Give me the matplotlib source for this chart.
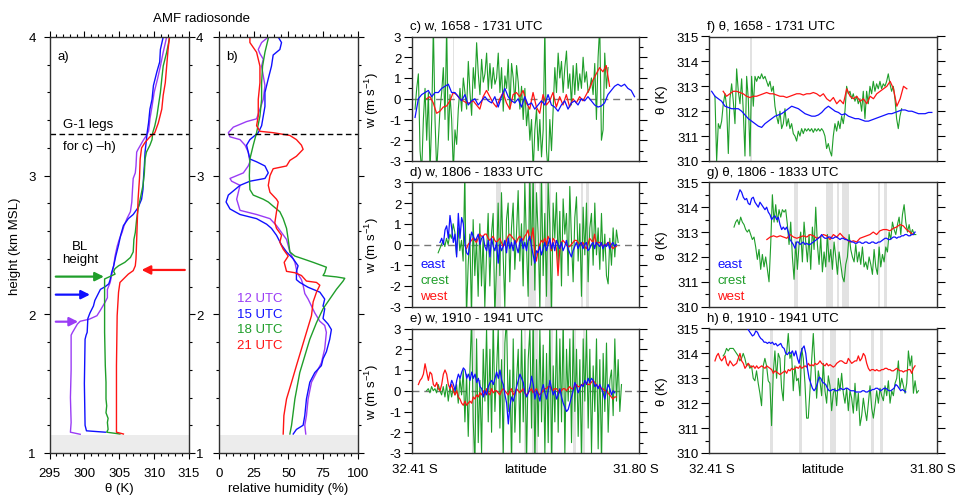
import numpy as np
import matplotlib
matplotlib.use("Agg")
import matplotlib.pyplot as plt
from matplotlib.ticker import MultipleLocator

plt.rcParams['font.family'] = ['Liberation Sans', 'DejaVu Sans']
plt.rcParams['font.size'] = 9.5
plt.rcParams['mathtext.fontset'] = 'custom'
plt.rcParams['mathtext.rm'] = 'Liberation Sans'
plt.rcParams['mathtext.default'] = 'regular'
plt.rcParams['axes.unicode_minus'] = False

PURPLE = '#9a3cf5'
BLUE = '#1010ff'
GREEN = '#1f9e2a'
RED = '#ff1414'
BAND = '#e2e2e2'

# ---------------------------------------------------------------------------
# a) potential temperature soundings (theta K, height km MSL)
# ---------------------------------------------------------------------------
theta_12 = [299.4, 298.0, 298.1, 298.0, 298.1, 298.1, 298.3, 299.0, 299.4, 300.7, 301.8, 302.3,
            303.0, 303.3, 303.3, 303.7, 303.9, 304.2, 304.4, 304.7, 305.0, 305.4, 305.7, 306.1,
            306.6, 306.8, 306.9, 307.0, 307.3, 307.4, 307.5, 307.7, 308.5, 308.9, 309.2, 309.3,
            309.4, 309.7, 310.0, 310.5, 310.9, 311.3, 311.8]
z_12 = [1.135, 1.15, 1.22, 1.40, 1.60, 1.85, 1.87, 1.93, 1.95, 1.965, 1.99, 2.03, 2.09, 2.12,
        2.18, 2.23, 2.28, 2.35, 2.42, 2.49, 2.54, 2.59, 2.64, 2.69, 2.74, 2.81, 2.90, 2.98, 3.02,
        3.07, 3.17, 3.19, 3.26, 3.29, 3.32, 3.36, 3.41, 3.50, 3.60, 3.70, 3.79, 3.89, 4.0]
theta_15 = [303.0, 300.3, 300.1, 300.0, 300.1, 300.25, 300.4, 300.5, 300.8, 301.3, 301.5, 301.8,
            302.3, 303.0, 303.5, 303.7, 303.9, 304.2, 304.5, 304.9, 305.2, 305.6, 306.3, 307.0,
            307.7, 308.2, 308.4, 308.5, 308.6, 308.7, 308.9, 309.0, 309.2, 309.4, 309.7, 309.9,
            310.4, 310.8, 310.9, 311.3]
z_15 = [1.15, 1.16, 1.20, 1.50, 1.82, 1.85, 1.87, 1.97, 2.01, 2.06, 2.10, 2.13, 2.18, 2.20, 2.22,
        2.25, 2.30, 2.35, 2.42, 2.50, 2.57, 2.64, 2.69, 2.72, 2.77, 2.83, 2.90, 3.0, 3.07, 3.17,
        3.26, 3.31, 3.38, 3.48, 3.55, 3.65, 3.75, 3.82, 3.91, 4.0]
theta_18 = [305.1, 303.2, 303.4, 303.3, 303.4, 303.1, 303.2, 303.1, 303.1, 303.0, 302.9, 302.9,
            302.9, 304.4, 304.2, 304.4, 304.9, 305.8, 306.6, 307.0, 307.1, 307.3, 307.5, 307.7,
            308.0, 308.4, 308.6, 308.7, 308.9, 309.4, 309.7, 309.8, 310.1, 310.4, 310.6, 310.9,
            311.1, 311.3, 311.8, 312.2]
z_18 = [1.137, 1.15, 1.17, 1.22, 1.25, 1.29, 1.34, 1.39, 1.51, 1.63, 1.87, 2.11, 2.255, 2.29,
        2.31, 2.33, 2.35, 2.375, 2.41, 2.45, 2.54, 2.59, 2.69, 2.76, 2.83, 2.93, 3.02, 3.12, 3.17,
        3.22, 3.26, 3.31, 3.36, 3.43, 3.50, 3.60, 3.70, 3.79, 3.89, 3.99]
theta_21 = [305.6, 304.6, 304.6, 304.6, 304.7, 304.9, 305.1, 305.6, 306.3, 307.0, 307.3, 307.4,
            307.5, 307.6, 307.7, 307.9, 308.0, 308.2, 308.7, 309.4, 310.1, 310.6, 311.1, 311.3,
            311.6, 311.8, 312.0, 312.2]
z_21 = [1.137, 1.15, 1.40, 1.63, 1.99, 2.16, 2.23, 2.255, 2.29, 2.315, 2.35, 2.40, 2.54, 2.69,
        2.83, 2.98, 3.12, 3.20, 3.24, 3.28, 3.31, 3.38, 3.48, 3.58, 3.67, 3.79, 3.91, 4.0]

# b) relative humidity soundings (%)
rh_12 = [62.5, 61.8, 63.0, 64.2, 66.6, 70.2, 73.7, 76.1, 77.3, 76.1, 72.6, 69.0, 66.6, 64.2, 61.8,
         60.6, 59.4, 56.3, 54.7, 51.1, 48.7, 45.1, 41.5, 36.8, 27.2, 15.3, 12.9, 14.1, 15.3, 9.3,
         8.1, 12.9, 17.7, 21.2, 22.4, 21.2, 18.9, 15.3, 8.1, 6.9, 10.5, 15.3, 20.0, 27.2, 29.6,
         32.0, 33.2, 32.0, 30.8, 32.0, 29.6, 28.4, 30.8, 35.6]
zr_12 = [1.137, 1.20, 1.27, 1.39, 1.51, 1.58, 1.65, 1.75, 1.87, 1.92, 1.95, 2.01, 2.06, 2.11,
         2.15, 2.21, 2.25, 2.30, 2.375, 2.45, 2.54, 2.59, 2.64, 2.69, 2.72, 2.75, 2.83, 2.88,
         2.93, 2.96, 2.98, 3.00, 3.02, 3.07, 3.10, 3.17, 3.22, 3.26, 3.28, 3.31, 3.35, 3.37,
         3.39, 3.41, 3.48, 3.55, 3.65, 3.72, 3.79, 3.84, 3.88, 3.91, 3.96, 4.0]
rh_15 = [53.5, 55.8, 60.6, 61.8, 63.0, 65.4, 69.0, 73.7, 74.9, 77.3, 79.7, 80.9, 78.5, 74.9, 76.1,
         74.9, 76.1, 72.6, 70.2, 64.2, 58.2, 55.8, 55.8, 57.0, 53.5, 48.7, 45.1, 41.5, 37.9, 34.4,
         27.2, 15.3, 8.1, 5.3, 6.9, 10.5, 15.3, 22.4, 33.2, 35.6, 33.2, 27.2, 22.4, 21.2, 20.0,
         22.4, 28.4, 30.8, 32.0, 33.2, 33.2, 35.6, 37.9, 39.1, 43.9, 45.1, 42.7]
zr_15 = [1.137, 1.17, 1.20, 1.27, 1.39, 1.51, 1.58, 1.63, 1.68, 1.73, 1.82, 1.89, 1.93, 1.97,
         2.04, 2.06, 2.11, 2.16, 2.17, 2.195, 2.23, 2.25, 2.31, 2.35, 2.40, 2.45, 2.50, 2.57,
         2.62, 2.65, 2.69, 2.72, 2.76, 2.81, 2.86, 2.89, 2.93, 2.96, 2.98, 3.02, 3.07, 3.10,
         3.12, 3.17, 3.22, 3.26, 3.31, 3.36, 3.43, 3.50, 3.60, 3.70, 3.79, 3.87, 3.91, 3.96, 4.0]
rh_18 = [51.1, 52.3, 54.7, 58.2, 61.8, 65.4, 70.2, 74.9, 79.7, 84.5, 89.3, 90.5, 84.5, 74.9, 76.1,
         77.3, 67.8, 60.6, 54.7, 51.1, 49.9, 48.7, 46.3, 43.9, 39.1, 35.6, 32.0, 24.8, 22.4, 22.0,
         22.4, 24.8, 27.2, 29.6, 30.8, 30.8, 31.5, 33.2, 35.6]
zr_18 = [1.137, 1.20, 1.39, 1.58, 1.70, 1.82, 1.94, 2.04, 2.11, 2.18, 2.24, 2.26, 2.27, 2.28,
         2.30, 2.34, 2.375, 2.40, 2.42, 2.45, 2.54, 2.62, 2.69, 2.74, 2.78, 2.81, 2.83, 2.86,
         2.90, 3.00, 3.12, 3.22, 3.31, 3.43, 3.55, 3.67, 3.79, 3.89, 3.99]
rh_21 = [46.3, 46.8, 48.7, 52.3, 55.8, 59.4, 63.0, 66.6, 67.8, 70.2, 72.6, 70.2, 63.0, 59.4, 54.7,
         48.7, 47.0, 49.9, 46.3, 43.9, 45.1, 41.5, 40.3, 41.5, 42.7, 41.5, 36.8, 35.6, 36.8, 39.1,
         48.7, 51.1, 55.8, 60.6, 59.4, 55.8, 51.1, 39.1, 29.6, 27.2, 28.4, 28.4, 29.6, 29.6, 27.2,
         22.4, 22.4]
zr_21 = [1.137, 1.27, 1.39, 1.51, 1.63, 1.75, 1.87, 1.99, 2.09, 2.16, 2.21, 2.23, 2.24, 2.28,
         2.30, 2.31, 2.375, 2.42, 2.47, 2.52, 2.57, 2.62, 2.66, 2.74, 2.81, 2.83, 2.88, 2.93,
         3.00, 3.05, 3.07, 3.11, 3.14, 3.19, 3.22, 3.26, 3.29, 3.31, 3.32, 3.36, 3.43, 3.55,
         3.67, 3.79, 3.89, 3.96, 4.0]

sonde_labels = ['12 UTC', '15 UTC', '18 UTC', '21 UTC']
bl_height = [1.947, 2.142, 2.272, 2.32]   # km MSL, arrows in a)
g1_leg_height = 3.3
ground_top = 1.13

# ---------------------------------------------------------------------------
# c)-h) G-1 legs: values sampled evenly between start/end latitude (deg, S<0)
# ---------------------------------------------------------------------------
# leg 1658-1731 UTC, w (m/s)
w_c_east = [-0.9, 0.0, 0.2, 0.3, 0.4, 0.1, 0.3, 0.3, 0.5, 0.6, 0.7, 0.3, 0.3, 0.1, -0.1, 0.2, -0.3,
            -0.1, 0.0, -0.3, -0.1, 0.1, -0.1, -0.2, 0.1, -0.4, 0.1, 0.5, 0.1, -0.1, -0.2, 0.0, -0.4,
            0.1, -0.3, -0.2, -0.5, -0.3, -0.1, -0.3, 0.2, -0.3, -0.4, -0.6, -0.3, -0.1, -0.5, -0.2,
            -0.1, -0.3, 0.0, -0.1, 0.1, -0.1, -0.3, -0.4, -0.35, -0.2, 0.2, 0.4, 0.6, 0.7, 0.6, 0.7,
            0.5, 0.4, 0.1]
w_c_west = [0.0, 0.1, -0.2, -0.7, -0.6, -0.4, -0.35, -0.1, 0.3, 0.2, 0.0, -0.1, -0.2, -0.2, -0.1,
            -0.3, -0.5, 0.1, 0.4, 0.1, -0.2, -0.4, 0.0, 0.3, -0.2, -0.5, 0.2, 0.3, 0.1, 0.4, -0.2,
            -0.5, 0.3, -0.4, -0.7, 0.2, -0.3, -0.1, 0.3, -0.4, 0.1, -0.3, 0.2, -0.4, 0.0, -0.2, 0.1,
            -0.1, 0.2, 0.5, 0.9, 1.2, 1.5, 1.3, 1.6, 0.6]
w_c_crest = [-0.5, 0.5, 1.2, -2.5, -3.5, -1.0, 0.5, -2.0, 0.3, -3.5, -1.0, 3.5, -1.0, -3.5, -2.0,
             -0.5, 0.3, 1.5, -1.0, 3.5, -2.0, 0.2, -1.0, -3.5, -1.5, -2.2, -0.5, 0.5, -0.6, 1.0,
             0.3, -0.5, 1.8, 0.3, -0.8, 1.5, 0.5, 2.7, 1.2, 0.2, 1.9, 0.8, 1.2, 2.2, 0.4, 1.7, 0.5,
             1.5, 0.7, 1.0, 2.2, 0.3, 1.5, -0.6, 1.1, 0.5, 1.9, -0.5, 1.7, 1.0, -0.2, 1.6, 0.8,
             -0.5, 0.6, -1.0, 0.5, -1.3, -0.4, -2.0, -1.0, -3.5, -1.5, -0.5, -2.5, -1.0, -2.8, -1.5,
             3.5, -2.5, -3.5, -1.0, -2.5, -0.5, 1.5, 0.3, 2.2, 1.0, 1.8, 0.3, 1.5, 2.3, 0.5, 1.2,
             -0.3, 1.6, 0.2, 1.7, 0.4, 1.2, 0.5, 2.0, 0.8, 1.3, 0.3, 0.5, 1.0, 0.2, 1.7, -1.0, 2.0,
             3.5, -2.0, -1.5, 2.2, 0.5, 1.5]
lat_c_east = [-32.401, -31.812]
lat_c_west = [-32.370, -31.879]
lat_c_crest = [-32.401, -31.883]

# leg 1806-1833 UTC, w (m/s)
w_d_east = [0.1, 0.3, 0.0, 0.7, 0.9, 0.3, 1.4, 0.8, 0.1, 0.5, -0.6, 1.5, 0.3, 1.3, 1.0, 0.0, -0.4,
            -0.5, 0.1, 0.6, 0.4, 0.2, 0.3, 0.5, 0.0, 0.3, 0.4, -0.1, -0.3, 0.2, -0.6, 0.3, -0.1,
            -0.3, 0.1, -0.9, 0.0, -0.3, -0.1, 0.2, -0.4, 0.3, -0.2, 0.1, -0.3, 0.2, -0.1, -0.4, 0.1,
            0.3, -0.2, 0.1, -0.3, 0.2, 0.4, -0.1, -0.5, -0.9, -0.3, -0.4, -0.1, -0.5, -0.2, 0.1,
            -0.3, 0.0, 0.3, -0.2, 0.1, -0.3, 0.2, 0.0, -0.2, 0.1, -0.3, -0.1, 0.2, -0.2, -0.4, -0.6,
            -0.3, -0.1, 0.1, -0.2, 0.0, 0.1, -0.2, 0.0, 0.1, -0.3, -0.2, 0.0, 0.1, -0.2, 0.1, 0.0,
            -0.1, 0.1, -0.2, 0.0, -0.1, 0.1, -0.2, 0.0, 0.1, -0.1, 0.0]
w_d_west = [-0.2, 0.0, 0.1, 0.2, 0.3, 0.2, 0.1, 0.3, 0.5, 0.4, 0.4, 0.5, 0.5, 0.3, 0.2, 0.3, 0.4,
            0.2, 0.1, 0.2, 0.3, 0.1, -0.1, 0.0, 0.2, 0.4, 0.5, 0.4, 0.3, 0.2, 0.1, 0.3, 0.4, 0.3,
            0.2, 0.4, 0.5, 0.7, 0.2, 0.3, 0.8, -0.4, -0.8, -0.3, 0.0, 0.2, 0.1, 0.3, 0.0, 0.4, 0.2,
            -0.3, 0.3, 0.2, -0.2, -1.5, -0.3, 0.1, 0.2, 0.1, 0.0, -0.1, -0.1, 0.0, 0.1, 0.2, 0.2,
            0.1, 0.0, 0.0, 0.1, -0.1, -0.2, 0.0, 0.3, 0.2, 0.1, 0.5, 0.0, 0.1, 0.1, 0.0, -0.1, 0.0,
            0.0, 0.1, 0.1, -0.1, -0.2, -0.1, -0.1]
w_d_crest = [-0.4, -0.2, 0.0, 0.2, -0.1, 0.3, 0.0, 0.5, 0.3, 1.0, 0.6, -0.5, 0.8, -0.3, 0.2, -0.8,
             3.5, -3.5, -1.0, 0.5, -3.5, 1.2, -1.5, 0.3, -2.5, 1.0, -2.0, 0.4, -3.0, -0.5, 1.5,
             -2.0, 0.5, 1.5, -3.5, -1.0, 2.0, -1.5, 2.5, -0.5, -3.0, 1.2, 2.0, -1.8, 0.8, 2.0, -1.2,
             0.5, 2.6, -0.8, 1.0, -2.0, 3.0, 0.0, -2.5, 3.5, -1.0, 3.5, -2.2, 2.5, 0.5, -3.0, 3.5,
             -1.5, 1.5, -2.5, 3.0, 1.0, -3.5, 2.0, 0.3, 2.5, -1.0, 1.6, -2.0, 2.2, 0.5, 1.5, -1.5,
             2.8, 0.2, -1.8, 1.3, 2.3, -0.8, 1.0, -2.5, 1.8, -0.5, 2.0, -1.8, 0.8, 1.5, -1.0, 2.0,
             -0.5, 0.8, -1.2, 1.5, -0.8, 0.5, -1.5, -1.9, 0.3, -1.0, 0.8, -0.6, 0.7, 0.1]
lat_d_east = [-32.334, -31.861]
lat_d_west = [-32.263, -31.861]
lat_d_crest = [-32.339, -31.856]

# leg 1910-1941 UTC, w (m/s)
w_e_east = [0.2, 0.5, 0.3, 0.0, 0.5, 0.8, 0.6, 0.9, 1.1, 1.0, 0.6, 0.8, 0.5, 0.9, 0.6, 0.8, 0.4,
            0.6, 0.2, 0.1, -0.3, 0.0, -0.2, 0.2, 0.4, 0.5, 0.3, 0.6, 0.9, 0.6, 1.0, 0.5, 0.3, -0.2,
            -0.6, -1.6, -0.7, -0.3, -0.5, -0.2, 0.2, 0.5, 0.8, 0.6, 0.4, -0.1, -0.3, -0.1, 0.2, 0.7,
            0.3, -0.4, 0.0, -0.2, -0.5, 0.0, 0.3, -0.1, -0.4, 0.0, 0.5, 0.1, -0.2, 0.0, -0.4, -0.2,
            0.1, -0.3, -0.6, -0.8, -1.0, -0.9, -0.6, -0.3, 0.0, 0.4, 0.2, -0.1, 0.1, 0.3, 0.2, 0.5,
            0.3, 0.6, 0.4, 0.6, 0.5, 0.2, 0.3, 0.1, 0.3, 0.1, -0.1, -0.4, 0.0, 0.3, 0.1, -0.2, 0.0,
            -0.1]
w_e_west = [0.3, 0.5, 0.6, 0.8, 1.3, 0.9, 0.5, 0.9, 0.8, 0.3, 0.2, 0.4, 0.1, 0.0, 0.3, 0.8, 1.0,
            0.8, 0.3, 0.1, 0.3, 0.0, -0.2, 0.0, -0.3, -0.4, -0.6, -0.7, -0.5, -0.7, -0.6, -0.5,
            -0.6, -0.3, -0.4, -0.2, -0.3, -0.1, -0.2, 0.0, -0.2, 0.1, -0.1, -0.2, 0.1, -0.1, 0.0,
            0.0, -0.1, -0.2, 0.0, 0.1, 0.0, -0.1, -0.2, 0.0, 0.1, -0.2, -0.1, 0.1, 0.0, -0.1, 0.0,
            0.1, -0.1, -0.2, -0.1, 0.0, 0.1, -0.1, 0.0, 0.1, -0.1, -0.2, -0.1, 0.0, 0.1, 0.1, 0.2,
            0.2, 0.1, 0.0, 0.1, 0.1, 0.0, -0.1, 0.0, 0.1, 0.1, 0.0, 0.1, 0.2, 0.1, 0.1, 0.2, 0.3,
            0.2, 0.2, 0.3, 0.3, 0.4, 0.4, 0.3, 0.3, 0.4, 0.5, 0.4, 0.3, 0.2, 0.2, 0.1, 0.1, 0.0,
            0.0, -0.1, -0.2, -0.3, -0.4, -0.3, -0.3]
w_e_crest = [0.0, 0.1, -0.1, 0.2, 0.0, 0.1, -0.1, 0.3, 0.0, -0.2, 0.2, -0.3, 0.3, -0.5, 0.2, -0.3,
             0.1, -0.2, 0.3, -0.6, 0.6, -0.2, 1.0, -1.5, 0.8, -2.2, 1.0, 3.5, -1.5, -3.5, 2.5,
             -2.5, 0.5, -3.0, 2.0, -0.5, 3.0, -1.5, 2.0, -2.0, 3.5, -1.0, 1.0, 3.0, -1.8, 1.5, -3.0,
             2.3, 3.5, -1.0, 1.0, -3.5, 2.5, -2.0, 0.5, 2.0, -2.5, 3.0, -1.5, 2.0, -3.5, 1.5, 3.0,
             -1.8, 3.5, -3.5, 1.5, -2.2, 3.0, -1.5, 2.2, -3.0, 1.8, -2.5, 3.5, -3.5, 1.2, -1.5, 3.0,
             -2.0, 2.5, -1.5, 3.5, -3.0, 2.0, -0.5, 2.5, -2.5, 3.0, -1.0, 2.0, -2.2, 1.5, -3.5, 2.5,
             -0.5, 3.0, -1.8, 2.0, -3.0, 1.2, -1.0, 2.5, -2.8, 1.5, -3.5, 1.8, -1.0, 2.3, -2.0, 0.5,
             1.0, -1.2, 2.5, -0.5, 1.5, -1.0, 0.3]
lat_e_east = [-32.307, -31.865]
lat_e_west = [-32.392, -31.861]
lat_e_crest = [-32.370, -31.847]

# leg 1658-1731 UTC, theta (K)
th_f_east = [312.8, 312.6, 312.5, 312.4, 312.2, 312.15, 312.1, 312.1, 312.1, 312.0, 311.85, 311.7,
             311.6, 311.5, 311.4, 311.35, 311.5, 311.6, 311.7, 311.8, 311.85, 311.9, 312.0, 312.1,
             312.2, 312.15, 312.1, 312.0, 311.9, 311.85, 311.8, 311.8, 311.85, 311.95, 312.1, 312.2,
             312.1, 312.0, 311.95, 311.85, 311.9, 311.8, 311.75, 311.7, 311.7, 311.65, 311.6,
             311.6, 311.65, 311.7, 311.75, 311.8, 311.85, 311.9, 311.9, 311.95, 312.0, 312.05,
             312.05, 312.0, 312.0, 311.95, 311.9, 311.9, 311.9, 311.95, 311.95]
th_f_west = [312.8, 312.6, 312.7, 312.8, 312.8, 312.75, 312.7, 312.6, 312.55, 312.6, 312.6, 312.65,
             312.7, 312.75, 312.7, 312.7, 312.65, 312.6, 312.6, 312.55, 312.6, 312.65, 312.7,
             312.7, 312.65, 312.7, 312.7, 312.75, 312.7, 312.6, 312.7, 312.5, 312.4, 312.55, 312.3,
             312.45, 312.3, 312.9, 312.6, 312.5, 312.6, 312.4, 312.5, 312.3, 312.6, 312.5, 312.7,
             312.8, 312.9, 313.0, 313.2, 312.9, 312.2, 312.5, 313.0, 312.9]
th_f_crest = [312.6, 310.0, 311.5, 311.3, 311.6, 312.3, 312.7, 312.2, 310.3, 312.5, 313.1, 312.4,
              311.5, 313.7, 312.8, 312.3, 313.3, 312.0, 310.2, 313.4, 312.5, 310.2, 313.4, 312.2,
              313.4, 313.2, 313.4, 313.3, 313.5, 313.3, 313.4, 313.2, 313.0, 313.2, 312.8, 313.0,
              312.2, 311.8, 311.5, 312.0, 311.3, 311.5, 312.1, 311.4, 311.7, 311.3, 311.5, 311.1,
              311.0, 310.8, 311.2, 311.0, 311.3, 311.1, 311.3, 311.2, 311.3, 311.2, 311.3, 311.15,
              311.3, 311.2, 311.3, 311.2, 311.3, 311.2, 311.0, 310.5, 310.7, 310.4, 310.2, 311.0,
              311.5, 311.2, 311.6, 311.3, 311.8, 311.5, 312.0, 313.0, 312.7, 312.8, 312.5, 312.7,
              312.4, 312.6, 312.3, 312.5, 312.0, 312.8, 311.7, 312.8, 312.3, 313.0, 312.7, 313.2,
              312.8, 313.1, 312.9, 313.2, 312.9, 313.1, 313.0, 313.2, 313.5, 313.1, 312.8, 313.0,
              312.5, 311.7, 311.3, 311.8, 312.1]
lat_f_east = [-32.403, -31.813]
lat_f_west = [-32.372, -31.880]
lat_f_crest = [-32.394, -31.894]

# leg 1806-1833 UTC, theta (K)
th_g_east = [314.3, 314.5, 314.7, 314.6, 314.4, 314.3, 314.35, 314.15, 314.1, 314.35, 314.4, 314.2,
             314.1, 314.0, 314.2, 314.1, 314.0, 313.9, 314.0, 313.8, 313.7, 313.5, 313.6, 313.65,
             313.5, 313.6, 313.3, 313.1, 313.2, 313.1, 313.2, 313.0, 312.7, 312.6, 312.5, 312.35,
             312.6, 312.6, 312.5, 312.55, 312.6, 312.5, 312.55, 312.5, 312.5, 312.55, 312.6,
             312.65, 312.7, 312.75, 312.8, 312.9, 312.8, 312.75, 312.75, 312.8, 312.8, 312.75,
             312.75, 312.8, 312.8, 312.75, 312.7, 312.75, 312.75, 312.7, 312.7, 312.65, 312.65,
             312.6, 312.6, 312.55, 312.55, 312.6, 312.6, 312.55, 312.55, 312.6, 312.6, 312.55,
             312.55, 312.6, 312.6, 312.55, 312.55, 312.6, 312.6, 312.65, 312.7, 312.75, 312.75,
             312.7, 312.7, 312.75, 312.8, 312.8, 312.75, 312.8, 312.8, 312.85, 312.85, 312.9,
             312.9, 312.85, 312.85, 312.9, 312.9, 313.0]
th_g_west = [312.7, 312.8, 312.85, 312.8, 312.85, 312.8, 312.75, 312.9, 312.8, 312.75, 312.8,
             312.85, 312.8, 312.9, 312.85, 312.75, 312.8, 312.9, 312.85, 312.7, 312.9, 312.8,
             312.95, 312.8, 312.7, 312.6, 312.65, 312.6, 312.75, 312.8, 312.85, 312.9, 313.0,
             312.9, 313.05, 313.1, 313.1, 313.05, 313.15, 313.2, 313.3, 313.25, 313.1, 313.0, 312.9]
th_g_crest = [313.2, 313.4, 313.5, 313.3, 313.6, 313.4, 313.3, 313.1, 313.0, 313.1, 312.9, 312.7,
              312.8, 312.4, 311.9, 312.3, 311.5, 312.1, 311.6, 312.0, 311.5, 311.0, 312.5, 314.5,
              313.4, 314.1, 313.4, 313.9, 313.6, 313.9, 313.8, 313.9, 313.3, 312.5, 313.4, 312.0,
              311.1, 312.6, 311.5, 312.5, 313.0, 311.8, 313.4, 312.6, 311.8, 312.9, 311.5, 313.2,
              312.3, 314.0, 312.5, 311.7, 312.8, 311.4, 312.2, 311.6, 312.9, 311.8, 312.3, 311.5,
              312.6, 312.0, 311.3, 312.2, 311.7, 311.2, 311.0, 311.7, 312.0, 312.9, 312.3, 312.0,
              311.8, 312.5, 311.8, 312.2, 311.7, 312.4, 311.6, 311.8, 311.5, 312.0, 311.7, 311.3,
              312.3, 311.6, 311.3, 312.4, 311.6, 312.1, 311.8, 312.4, 312.2, 313.0, 312.7, 313.4,
              313.1, 312.9, 313.3, 313.6, 312.9, 313.7, 314.1, 313.4, 313.0, 313.3, 312.9, 313.1,
              312.9, 312.9]
lat_g_east = [-32.336, -31.858]
lat_g_west = [-32.255, -31.863]
lat_g_crest = [-32.343, -31.856]

# leg 1910-1941 UTC, theta (K)
th_h_east = [315.0, 314.9, 314.8, 314.7, 314.75, 314.9, 314.85, 314.7, 314.6, 314.55, 314.45,
             314.45, 314.4, 314.45, 314.4, 314.45, 314.35, 314.4, 314.3, 314.35, 314.4, 314.25,
             314.2, 314.0, 313.95, 314.05, 314.0, 314.1, 313.9, 314.1, 313.8, 313.6, 314.0, 314.2,
             314.3, 314.0, 313.4, 313.0, 312.8, 312.6, 312.5, 312.6, 312.8, 313.05, 313.0, 312.85,
             312.8, 312.75, 312.6, 312.5, 312.5, 312.55, 312.55, 312.5, 312.5, 312.55, 312.6,
             312.55, 312.55, 312.6, 312.6, 312.55, 312.5, 312.5, 312.5, 312.45, 312.45, 312.45,
             312.45, 312.5, 312.5, 312.45, 312.45, 312.5, 312.5, 312.55, 312.55, 312.6, 312.6,
             312.55, 312.5, 312.55, 312.6, 312.6, 312.55, 312.5, 312.5, 312.55, 312.6, 312.75,
             312.7, 312.6, 312.5, 312.55, 312.5, 312.45]
th_h_west = [313.7, 313.9, 314.0, 313.8, 313.7, 313.8, 313.9, 313.6, 313.5, 313.7, 313.6, 313.5,
             313.55, 313.6, 313.8, 314.0, 313.7, 313.6, 313.4, 313.5, 313.6, 313.5, 313.45, 313.5,
             313.4, 313.5, 313.4, 313.45, 313.5, 313.45, 313.4, 313.5, 313.45, 313.4, 313.35,
             313.2, 313.3, 313.25, 313.2, 313.15, 313.2, 313.25, 313.3, 313.2, 313.35, 313.3,
             313.4, 313.35, 313.4, 313.45, 313.4, 313.5, 313.4, 313.45, 313.5, 313.45, 313.6,
             313.5, 313.55, 313.5, 313.6, 313.55, 313.6, 313.7, 313.6, 313.55, 313.5, 313.6,
             313.5, 313.55, 313.5, 313.45, 313.5, 313.6, 313.65, 313.7, 313.7, 313.65, 313.6,
             313.6, 313.8, 313.7, 313.6, 313.65, 313.7, 313.7, 313.9, 313.7, 313.8, 314.0, 313.9,
             313.6, 313.4, 313.3, 313.35, 313.35, 313.3, 313.35, 313.3, 313.3, 313.35, 313.35,
             313.4, 313.4, 313.35, 313.35, 313.3, 313.3, 313.35, 313.4, 313.35, 313.3, 313.3,
             313.25, 313.3, 313.3, 313.35, 313.35, 313.2, 313.4, 313.5]
th_h_crest = [313.9, 314.0, 314.2, 314.1, 314.2, 314.2, 314.2, 314.1, 314.0, 313.9, 313.7, 313.8,
              314.0, 313.8, 313.5, 313.6, 313.4, 313.5, 313.0, 312.9, 313.3, 312.8, 312.4, 311.9,
              313.5, 313.8, 313.5, 312.9, 312.8, 311.1, 313.2, 314.1, 313.0, 314.0, 313.8, 312.6,
              312.1, 313.9, 314.0, 314.8, 313.8, 314.0, 312.5, 313.5, 312.9, 313.0, 312.3, 314.2,
              313.8, 312.8, 311.4, 311.4, 312.5, 313.7, 314.8, 313.5, 312.2, 313.3, 312.9, 312.3,
              313.6, 312.5, 312.0, 313.1, 312.7, 311.7, 312.4, 312.6, 311.9, 313.0, 312.5, 313.2,
              312.4, 312.0, 312.6, 311.7, 312.5, 312.2, 311.6, 312.8, 311.7, 312.4, 311.1, 311.5,
              312.2, 311.7, 311.3, 312.0, 312.7, 311.8, 311.4, 311.9, 312.5, 312.0, 312.6, 312.3,
              312.1, 312.7, 312.3, 312.9, 312.0, 312.5, 312.3, 312.8, 313.0, 313.7, 312.6, 313.0,
              312.7, 312.4, 312.8, 314.1, 313.5, 313.9, 312.4, 312.9, 312.4, 312.5]
lat_h_east = [-32.307, -31.883]
lat_h_west = [-32.394, -31.858]
lat_h_crest = [-32.372, -31.849]

# cloud / gap shading (latitude ranges) for each leg
bands_leg1 = [(-32.300, -32.296)]
bands_leg2 = [(-32.183, -32.171), (-32.097, -32.077), (-32.068, -32.062),
              (-32.053, -32.035), (-31.956, -31.951), (-31.942, -31.934)]
bands_leg3 = [(-32.247, -32.239), (-32.168, -32.161), (-32.108, -32.102),
              (-32.087, -32.070), (-32.036, -32.030), (-31.977, -31.969),
              (-31.951, -31.945)]
lat_range = [-32.41, -31.80]
lat_ticklabels = ['32.41 S', '31.80 S']
leg_titles_w = ['c) w, 1658 - 1731 UTC', 'd) w, 1806 - 1833 UTC', 'e) w, 1910 - 1941 UTC']
leg_titles_th = ['f) \u03b8, 1658 - 1731 UTC', 'g) \u03b8, 1806 - 1833 UTC',
                 'h) \u03b8, 1910 - 1941 UTC']
site_labels = ['east', 'crest', 'west']

FW, FH = 955, 502
fig = plt.figure(figsize=(FW / 100, FH / 100), dpi=100)


def px_axes(left, top, right, bottom):
    return fig.add_axes([left / FW, 1 - bottom / FH, (right - left) / FW, (bottom - top) / FH])


def style_spines(ax):
    for s in ax.spines.values():
        s.set_color('#303030')
        s.set_linewidth(1.0)


def track(vals, ext):
    return np.linspace(ext[0], ext[1], len(vals)), np.asarray(vals)


# ---------------- a) theta profiles ----------------
ax_a = px_axes(49.5, 38, 189, 454)
ax_a.axhspan(1.0, ground_top, color='#ececec', lw=0, zorder=0)
for th, z, c in zip([theta_12, theta_15, theta_18, theta_21], [z_12, z_15, z_18, z_21],
                    [PURPLE, BLUE, GREEN, RED]):
    ax_a.plot(th, z, color=c, lw=1.0)
ax_a.axhline(g1_leg_height, color='k', lw=1.0, ls=(0, (4, 2.5)))
ax_a.set_xlim(295, 315)
ax_a.set_ylim(1, 4)
ax_a.set_xticks([295, 300, 305, 310, 315])
ax_a.set_yticks([1, 2, 3, 4])
ax_a.xaxis.set_minor_locator(MultipleLocator(1))
ax_a.yaxis.set_minor_locator(MultipleLocator(0.2))
ax_a.tick_params(which='both', direction='out', top=True, right=True, labelsize=9.5)
ax_a.tick_params(which='major', length=4, width=0.8)
ax_a.tick_params(which='minor', length=2.5, width=0.8)
ax_a.tick_params(axis='x', pad=6)
ax_a.tick_params(axis='y', pad=6)
ax_a.set_xlabel('\u03b8 (K)', labelpad=2)
ax_a.set_ylabel('height (km MSL)')
ax_a.yaxis.set_label_coords(-0.205, 0.5)
style_spines(ax_a)
ax_a.text(0.06, 0.955, 'a)', transform=ax_a.transAxes, ha='left', va='center')
ax_a.text(0.097, g1_leg_height + 0.075, 'G-1 legs', ha='left', va='center',
          transform=ax_a.get_yaxis_transform())
ax_a.text(0.097, g1_leg_height - 0.087, 'for c) \u2013h)', ha='left', va='center',
          transform=ax_a.get_yaxis_transform())
ax_a.text(299.4, 2.495, 'BL', ha='center', va='center')
ax_a.text(299.4, 2.40, 'height', ha='center', va='center')
arrow_x = [(295.9, 299.1), (295.9, 300.8), (295.9, 302.8), (314.4, 308.2)]
for (x0, x1), h, c in zip(arrow_x, bl_height, [PURPLE, BLUE, GREEN, RED]):
    ax_a.annotate('', xy=(x1, h), xytext=(x0, h),
                  arrowprops=dict(arrowstyle='-|>', color=c, lw=1.6, mutation_scale=13,
                                  shrinkA=0, shrinkB=0))

# ---------------- b) RH profiles ----------------
ax_b = px_axes(218.7, 38, 358, 454)
ax_b.axhspan(1.0, ground_top, color='#ececec', lw=0, zorder=0)
for rh, z, c in zip([rh_12, rh_15, rh_18, rh_21], [zr_12, zr_15, zr_18, zr_21],
                    [PURPLE, BLUE, GREEN, RED]):
    ax_b.plot(rh, z, color=c, lw=1.0)
ax_b.axhline(g1_leg_height, color='k', lw=1.0, ls=(0, (4, 2.5)))
ax_b.set_xlim(0, 100)
ax_b.set_ylim(1, 4)
ax_b.set_xticks([0, 25, 50, 75, 100])
ax_b.set_yticks([1, 2, 3, 4])
ax_b.xaxis.set_minor_locator(MultipleLocator(5))
ax_b.yaxis.set_minor_locator(MultipleLocator(0.2))
ax_b.tick_params(which='both', direction='out', top=True, right=True, labelsize=9.5)
ax_b.tick_params(which='major', length=4, width=0.8)
ax_b.tick_params(which='minor', length=2.5, width=0.8)
ax_b.tick_params(axis='x', pad=6)
ax_b.tick_params(axis='y', pad=7)
ax_b.set_xlabel('relative humidity (%)', labelpad=2)
style_spines(ax_b)
ax_b.text(0.05, 0.955, 'b)', transform=ax_b.transAxes, ha='left', va='center')
for i, (lab, c) in enumerate(zip(sonde_labels, [PURPLE, BLUE, GREEN, RED])):
    ax_b.text(0.13, 0.373 - i * 0.038, lab, color=c, transform=ax_b.transAxes,
              ha='left', va='center')

fig.text(201 / FW, 1 - 19 / FH, 'AMF radiosonde', ha='center', va='center')

# ---------------- c)-h) aircraft legs ----------------
rows = [(37.5, 162), (183.3, 307.7), (329.5, 454)]
w_series = [(w_c_east, w_c_crest, w_c_west, lat_c_east, lat_c_crest, lat_c_west),
            (w_d_east, w_d_crest, w_d_west, lat_d_east, lat_d_crest, lat_d_west),
            (w_e_east, w_e_crest, w_e_west, lat_e_east, lat_e_crest, lat_e_west)]
th_series = [(th_f_east, th_f_crest, th_f_west, lat_f_east, lat_f_crest, lat_f_west),
             (th_g_east, th_g_crest, th_g_west, lat_g_east, lat_g_crest, lat_g_west),
             (th_h_east, th_h_crest, th_h_west, lat_h_east, lat_h_crest, lat_h_west)]
bands = [bands_leg1, bands_leg2, bands_leg3]


def leg_panel(ax, series, band_list, title, is_w, bottom_row, with_legend):
    east, crest, west, le, lc, lw_ = series
    for b0, b1 in band_list:
        ax.axvspan(b0, b1, color=BAND, lw=0, zorder=0)
    if is_w:
        ax.axhline(0, color='#777777', lw=1.0, ls=(0, (5, 3.5)), zorder=1)
    x, y = track(crest, lc)
    ax.plot(x, y, color=GREEN, lw=0.8, zorder=2)
    x, y = track(west, lw_)
    ax.plot(x, y, color=RED, lw=0.9, zorder=3)
    x, y = track(east, le)
    ax.plot(x, y, color=BLUE, lw=0.9, zorder=4)
    ax.set_xlim(*lat_range)
    if is_w:
        ax.set_ylim(-3, 3)
        ax.set_yticks(range(-3, 4))
        ax.set_ylabel('w (m s$^{-1}$)')
        ax.yaxis.set_label_coords(-0.135, 0.5)
    else:
        ax.set_ylim(310, 315)
        ax.set_yticks(range(310, 316))
        ax.set_ylabel('\u03b8 (K)')
        ax.yaxis.set_label_coords(-0.18, 0.5)
    ax.yaxis.set_minor_locator(MultipleLocator(0.5))
    ax.tick_params(axis='y', which='both', direction='out', left=True, right=True,
                   labelsize=9.5, pad=2, width=0.8)
    ax.tick_params(axis='y', which='major', length=5.5)
    ax.tick_params(axis='y', which='minor', length=3)
    ax.set_xticks([])
    if bottom_row:
        ax.text(0.013, -0.128, lat_ticklabels[0], transform=ax.transAxes,
                ha='center', va='center')
        ax.text(0.985, -0.128, lat_ticklabels[1], transform=ax.transAxes,
                ha='center', va='center')
        ax.text(0.5, -0.128, 'latitude', transform=ax.transAxes, ha='center', va='center')
    ax.text(-0.008, 1.085, title, transform=ax.transAxes, ha='left', va='center')
    if with_legend:
        for lab, c, yy in zip(site_labels, [BLUE, GREEN, RED], [0.343, 0.215, 0.087]):
            ax.text(0.037, yy, lab, color=c, transform=ax.transAxes, ha='left', va='center')
    style_spines(ax)


for i, (top, bot) in enumerate(rows):
    ax_w = px_axes(411.7, top, 639, bot)
    leg_panel(ax_w, w_series[i], bands[i], leg_titles_w[i], True, i == 2, i == 1)
    ax_t = px_axes(709, top, 936.7, bot)
    leg_panel(ax_t, th_series[i], bands[i], leg_titles_th[i], False, i == 2, i == 1)

fig.savefig('out.png', dpi=100)
